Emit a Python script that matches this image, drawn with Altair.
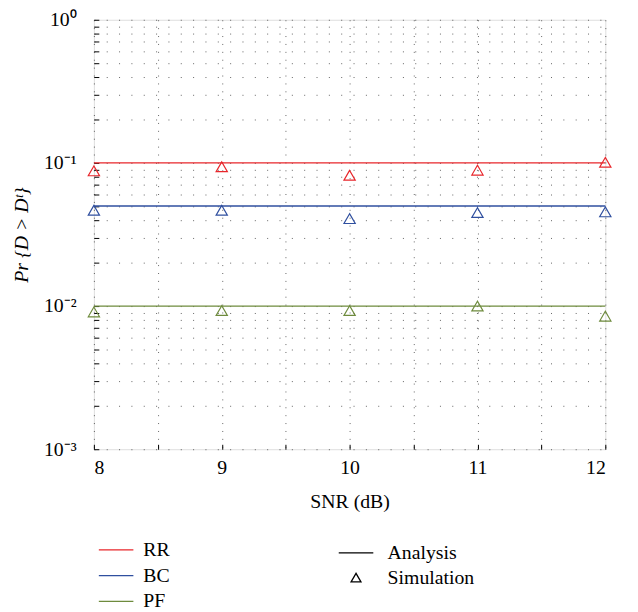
import altair as alt
import pandas as pd

# ---- data ----
snr = [8, 9, 10, 11, 12]
schemes = ["RR", "BC", "PF"]
analysis_rr = [0.1, 0.1, 0.1, 0.1, 0.1]
analysis_bc = [0.05, 0.05, 0.05, 0.05, 0.05]
analysis_pf = [0.01, 0.01, 0.01, 0.01, 0.01]
sim_rr = [0.088, 0.094, 0.082, 0.089, 0.101]
sim_bc = [0.0467, 0.0467, 0.0408, 0.0450, 0.0455]
sim_pf = [0.0091, 0.0093, 0.0093, 0.0100, 0.0085]
colors = ["#e8262b", "#2f4f9f", "#6e8b3d"]

x_ticks = [8, 8.5, 9, 9.5, 10, 10.5, 11, 11.5, 12]
y_ticks = [round(m * 10 ** e, 6) for e in (-3, -2, -1) for m in range(1, 10)] + [1.0]

rows_a, rows_s = [], []
for name, a, s in zip(schemes, [analysis_rr, analysis_bc, analysis_pf], [sim_rr, sim_bc, sim_pf]):
    for xv, av, sv in zip(snr, a, s):
        rows_a.append({"snr": xv, "p": av, "scheme": name})
        rows_s.append({"snr": xv, "p": sv, "scheme": name, "kind": "Simulation"})
df_a = pd.DataFrame(rows_a)
df_s = pd.DataFrame(rows_s)

FONT = "Liberation Serif"
FS = 20
line_path = "M-3.5,0H3.5"

x_enc = alt.X(
    "snr:Q",
    scale=alt.Scale(domain=[8, 12], nice=False),
    axis=alt.Axis(
        values=x_ticks,
        labelExpr="datum.value % 1 == 0 ? format(datum.value, 'd') : ''",
        title="SNR (dB)",
        offset=-5,
        tickSize=5,
        tickColor="black",
        domain=False,
        labelPadding=9,
        titlePadding=14,
        grid=True,
        gridDash=[1, 7],
        gridColor="#222",
        gridOpacity=0.7,
        labelFont=FONT,
        titleFont=FONT,
        labelFontSize=FS,
        titleFontSize=FS,
        titleFontWeight="normal",
        labelColor="black",
        titleColor="black",
    ),
)
y_enc = alt.Y(
    "p:Q",
    scale=alt.Scale(type="log", domain=[0.001, 1], nice=False),
    axis=alt.Axis(
        values=y_ticks,
        labelExpr=(
            "datum.value >= 0.999 ? '10\u2070' : abs(datum.value-0.1) < 1e-9 ? '10\u207b\u00b9' : "
            "abs(datum.value-0.01) < 1e-10 ? '10\u207b\u00b2' : abs(datum.value-0.001) < 1e-11 ? '10\u207b\u00b3' : ''"
        ),
        title="Pr {D > D\u1d57}",
        titleFontStyle="italic",
        offset=-5,
        tickSize=5,
        tickColor="black",
        domain=False,
        labelPadding=18,
        titlePadding=12,
        grid=True,
        gridDash=[1, 11.5],
        gridColor="#222",
        gridOpacity=0.7,
        labelFont=FONT,
        titleFont=FONT,
        labelFontSize=FS,
        titleFontSize=FS,
        titleFontWeight="normal",
        labelColor="black",
        titleColor="black",
    ),
)

color_enc = alt.Color(
    "scheme:N",
    scale=alt.Scale(domain=schemes, range=colors),
    legend=alt.Legend(
        title=None,
        orient="none",
        legendX=12.5,
        legendY=527,
        symbolType=line_path,
        symbolSize=100,
        symbolStrokeWidth=1.3,
        labelOffset=17.5,
        labelFontSize=FS,
        labelFont=FONT,
        labelColor="black",
        rowPadding=6,
        padding=0,
    ),
)

lines = alt.Chart(df_a).mark_line(strokeWidth=1.3).encode(
    x=x_enc, y=y_enc, color=color_enc, detail="scheme:N"
)

points = alt.Chart(df_s).mark_point(filled=False, size=130, strokeWidth=1.2, opacity=1).encode(
    x="snr:Q",
    y="p:Q",
    color=alt.Color("scheme:N", scale=alt.Scale(domain=schemes, range=colors), legend=None),
    shape=alt.Shape(
        "kind:N",
        scale=alt.Scale(domain=["Analysis", "Simulation"], range=[line_path, "triangle-up"]),
        legend=alt.Legend(
            title=None,
            orient="none",
            legendX=255.5,
            legendY=530,
            symbolSize=100,
            symbolStrokeColor="black",
            symbolFillColor="transparent",
            symbolStrokeWidth=1.3,
            labelOffset=22,
            labelFontSize=FS,
            labelFont=FONT,
            labelColor="black",
            rowPadding=5,
            padding=0,
        ),
    ),
)

chart = (
    alt.layer(lines, points)
    .resolve_legend(color="independent", shape="independent")
    .properties(
        width=518,
        height=435,
        autosize=alt.AutoSizeParams(type="none"),
        padding={"left": 87, "top": 8, "right": 25, "bottom": 165},
    )
    .configure_view(stroke="black", strokeWidth=1.2)
    .configure(background="white")
)

chart.save("out.html", embed_options={"renderer": "svg", "actions": False})
